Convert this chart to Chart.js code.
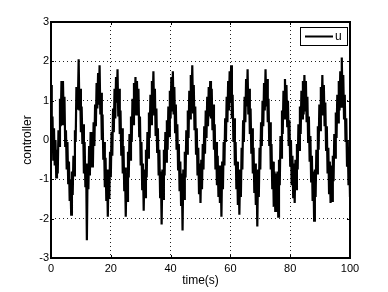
<!DOCTYPE html>
<html>
<head>
<meta charset="utf-8">
<script src="https://cdn.jsdelivr.net/npm/chart.js@4.4.1/dist/chart.umd.min.js"></script>
<style>
  html, body { margin: 0; padding: 0; background: #fff; }
</style>
</head>
<body>
<canvas id="grafico" width="388" height="292"></canvas>
<script>
// amostragem do sinal (s)
const passo = 0.25

// sinal u, um valor a cada 0.25 s (4 por linha = 1 s)
const controle = [
  1.4, 0.2, 0.6, -0.5,
  0.3, -0.65, 0.0, -0.95,
  -0.25, -0.85, 0.25, -0.15,
  1.05, 0.35, 1.5, 0.4,
  1.5, 0.5, 1.1, -0.15,
  0.25, -0.75, -0.05, -1.1,
  -0.55, -1.55, -1.0, -1.9,
  -0.8, -1.4, -0.4, -0.9,
  0.25, -0.05, 1.35, 0.8,
  1.0, 2.05, 0.75, 1.3,
  0.2, 0.85, -0.1, 0.4,
  -0.85, -0.05, -1.2, -0.6,
  -2.55, -0.65, -1.25, -0.15,
  -0.9, 0.2, -0.7, 0.2,
  -0.7, 0.45, -0.15, 0.9,
  0.35, 1.45, 0.8, 1.7,
  0.9, 1.9, 0.65, 1.2,
  0.0, 0.65, -0.5, -0.05,
  -1.2, -0.45, -1.55, -0.75,
  -1.95, -0.8, -1.5, -0.3,
  -0.95, 0.2, -0.4, 0.8,
  0.2, 1.3, 0.55, 1.6,
  0.95, 1.8, 0.6, 1.3,
  0.15, 0.75, -0.4, 0.3,
  -0.85, -0.15, -1.3, -0.7,
  -1.95, -0.85, -1.55, -0.3,
  -0.95, 0.15, -0.5, 0.6,
  -0.05, 1.05, 0.4, 1.45,
  0.7, 1.6, 0.65, 1.5,
  0.65, 1.3, 0.1, 0.6,
  -0.65, -0.05, -1.25, -0.6,
  -1.8, -0.75, -1.45, -0.25,
  -0.95, 0.2, -0.45, 0.7,
  0.05, 1.15, 0.4, 1.5,
  0.8, 1.75, 0.65, 1.3,
  0.1, 0.8, -0.3, 0.3,
  -0.9, -0.25, -1.45, -0.8,
  -2.15, -0.75, -1.5, -0.25,
  -0.9, 0.2, -0.55, 0.5,
  -0.25, 0.85, 0.1, 1.25,
  0.55, 1.6, 0.75, 1.75,
  0.65, 1.35, 0.2, 0.9,
  -0.25, 0.4, -0.75, -0.1,
  -1.3, -0.55, -1.65, -0.85,
  -2.3, -0.75, -1.5, -0.3,
  -0.95, 0.25, -0.35, 0.75,
  0.05, 1.25, 0.55, 1.65,
  0.9, 1.9, 0.7, 1.4,
  0.25, 0.85, -0.35, 0.3,
  -0.9, -0.2, -1.35, -0.6,
  -1.6, -0.5, -1.25, -0.1,
  -0.75, 0.35, -0.35, 0.75,
  0.05, 1.1, 0.35, 1.35,
  0.6, 1.5, 0.55, 1.3,
  0.25, 0.9, -0.25, 0.4,
  -0.75, -0.05, -1.15, -0.4,
  -1.45, -0.65, -1.6, -0.75,
  -1.95, -0.55, -1.25, -0.05,
  -0.65, 0.55, -0.05, 1.1,
  0.45, 1.5, 0.75, 1.75,
  0.95, 1.9, 0.55, 1.15,
  -0.05, 0.55, -0.65, -0.05,
  -1.25, -0.55, -1.65, -0.85,
  -1.9, -0.75, -1.45, -0.2,
  -0.75, 0.5, -0.05, 1.1,
  0.45, 1.55, 0.85, 1.8,
  0.65, 1.3, 0.15, 0.8,
  -0.35, 0.3, -0.85, -0.2,
  -1.35, -0.6, -1.65, -0.85,
  -2.2, -0.75, -1.45, -0.2,
  -0.75, 0.45, -0.15, 1.0,
  0.35, 1.45, 0.75, 1.8,
  0.85, 1.55, 0.45, 1.05,
  -0.15, 0.45, -0.75, -0.1,
  -1.25, -0.55, -1.7, -0.8,
  -1.8, -0.85, -1.75, -0.8,
  -1.95, -0.5, -1.15, 0.1,
  -0.45, 0.75, 0.15, 1.25,
  0.55, 1.55, 0.65, 1.4,
  0.35, 1.0, -0.15, 0.5,
  -0.65, 0.0, -1.15, -0.4,
  -1.45, -0.6, -1.6, -0.5,
  -1.25, -0.1, -0.75, 0.4,
  -0.25, 0.85, 0.15, 1.25,
  0.55, 1.5, 0.65, 1.65,
  0.75, 1.5, 0.45, 1.1,
  -0.05, 0.6, -0.55, 0.1,
  -1.05, -0.4, -1.55, -0.8,
  -2.05, -0.75, -1.45, -0.25,
  -0.85, 0.35, -0.25, 0.9,
  0.25, 1.35, 0.65, 1.65,
  0.65, 1.4, 0.35, 0.95,
  -0.25, 0.35, -0.85, -0.2,
  -1.35, -0.55, -1.6, -0.65,
  -1.55, -0.4, -1.05, 0.15,
  -0.45, 0.7, 0.05, 1.15,
  0.45, 1.5, 0.75, 1.75,
  0.85, 2.1, 0.95, 1.65,
  0.55, 1.15, -0.05, 0.55,
  -0.65, 0.0, -1.15, -0.4,
  -1.45
]

const ticksX = [0, 20, 40, 60, 80, 100]
const ticksY = [-3, -2, -1, 0, 1, 2, 3]
const legenda = 'u'

const fonte = 'Liberation Sans, Arial, Helvetica, sans-serif'

// caixa do eixo, ticks para dentro e legenda no estilo matlab
const moldura = {
  id: 'moldura',
  afterDraw(chart) {
    const { ctx, chartArea: a, scales } = chart
    ctx.save()
    ctx.strokeStyle = '#000'
    ctx.lineWidth = 1
    ctx.beginPath()
    ticksX.forEach((v) => {
      let x = Math.round(scales.x.getPixelForValue(v)) + 0.5
      ctx.moveTo(x, a.bottom); ctx.lineTo(x, a.bottom - 3)
      ctx.moveTo(x, a.top); ctx.lineTo(x, a.top + 3)
    })
    ticksY.forEach((v) => {
      let y = Math.round(scales.y.getPixelForValue(v)) + 0.5
      ctx.moveTo(a.left, y); ctx.lineTo(a.left + 3, y)
      ctx.moveTo(a.right, y); ctx.lineTo(a.right - 3, y)
    })
    ctx.stroke()
    ctx.lineWidth = 2
    ctx.strokeRect(a.left, a.top, a.right - a.left, a.bottom - a.top)

    // legenda
    let lx = a.right - 50, ly = a.top + 5, lw = 47, lh = 18
    ctx.fillStyle = '#fff'
    ctx.fillRect(lx, ly, lw, lh)
    ctx.lineWidth = 1
    ctx.strokeRect(lx + 0.5, ly + 0.5, lw, lh)
    ctx.lineWidth = 2
    ctx.beginPath()
    ctx.moveTo(lx + 5, ly + lh / 2 + 0.5)
    ctx.lineTo(lx + 33, ly + lh / 2 + 0.5)
    ctx.stroke()
    ctx.fillStyle = '#000'
    ctx.font = '12px ' + fonte
    ctx.textBaseline = 'middle'
    ctx.fillText(legenda, lx + 35, ly + lh / 2 + 1)
    ctx.restore()
  }
}

const graficoControle = new Chart(document.querySelector('#grafico'), {
  type: 'line',
  data: {
    datasets: [{
      label: legenda,
      data: controle.map((v, i) => ({ x: i * passo, y: v })),
      borderColor: '#000',
      borderWidth: 2.2,
      pointRadius: 0,
      tension: 0,
      fill: false
    }]
  },
  options: {
    responsive: false,
    animation: false,
    devicePixelRatio: 1,
    layout: { padding: { left: 16, top: 22, right: 38, bottom: 0 } },
    plugins: { legend: { display: false }, tooltip: { enabled: false } },
    scales: {
      x: {
        type: 'linear',
        min: 0,
        max: 100,
        afterBuildTicks: (s) => { s.ticks = ticksX.map((v) => ({ value: v })) },
        afterFit: (s) => { s.height = 34 },
        grid: { color: '#222', lineWidth: 1, drawTicks: false },
        border: { display: false, dash: [1, 3] },
        ticks: { color: '#000', font: { family: fonte, size: 11 }, padding: 4, maxRotation: 0 },
        title: { display: true, text: 'time(s)', color: '#000', font: { family: fonte, size: 12 }, padding: { top: 0, bottom: 4 } }
      },
      y: {
        type: 'linear',
        min: -3,
        max: 3,
        afterBuildTicks: (s) => { s.ticks = ticksY.map((v) => ({ value: v })) },
        afterFit: (s) => { s.width = 35 },
        grid: { color: '#222', lineWidth: 1, drawTicks: false },
        border: { display: false, dash: [1, 3] },
        ticks: { color: '#000', font: { family: fonte, size: 11 }, padding: 2 },
        title: { display: true, text: 'controller', color: '#000', font: { family: fonte, size: 12 }, padding: { top: 4, bottom: 4 } }
      }
    }
  },
  plugins: [moldura]
})
</script>
</body>
</html>
